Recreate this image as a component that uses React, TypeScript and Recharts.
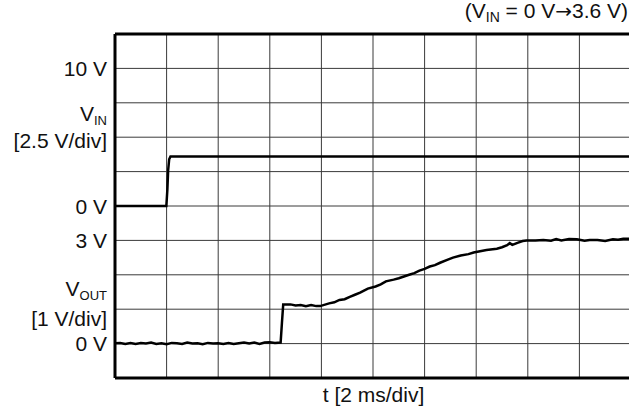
import { LineChart, Line, XAxis, YAxis, CartesianGrid, ReferenceLine } from 'recharts';

// scope setup: 10 x 10 divisions, 2 ms/div
const timeGrid = [0, 2, 4, 6, 8, 10, 12, 14, 16, 18, 20];
const divGrid = [0, 1, 2, 3, 4, 5, 6, 7, 8, 9, 10];

const vinVoltsPerDiv = 2.5;
const vinZeroDiv = 5;
const voutVoltsPerDiv = 1;
const voutZeroDiv = 1;

// [time ms, volts]
const vinTrace: [number, number][] = [
  [0, 0], [1.99, 0], [2.03, 1.2], [2.06, 2.6], [2.1, 3.4], [2.15, 3.6], [20, 3.6],
];

const voutTrace: [number, number][] = [
  [0, 0.01], [0.2, 0.02], [0.4, -0.01], [0.6, 0.02], [0.8, -0.01], [1.0, 0.02],
  [1.2, 0.0], [1.4, 0.03], [1.6, -0.01], [1.8, 0.01], [2.0, -0.02], [2.2, 0.02],
  [2.4, 0.01], [2.6, -0.01], [2.8, 0.03], [3.0, 0.0], [3.2, 0.01], [3.4, -0.02],
  [3.6, 0.02], [3.8, 0.0], [4.0, 0.01], [4.2, -0.01], [4.4, 0.02], [4.6, -0.01],
  [4.8, 0.01], [5.0, 0.03], [5.2, 0.0], [5.4, 0.03], [5.6, -0.01], [5.8, 0.03],
  [6.0, 0.04], [6.2, 0.02], [6.42, 0.03], [6.47, 0.6], [6.52, 1.14],
  [6.8, 1.14], [7.0, 1.11], [7.2, 1.12], [7.4, 1.09], [7.6, 1.12], [7.8, 1.09],
  [7.95, 1.09], [8.3, 1.17], [8.5, 1.2], [8.7, 1.27], [8.9, 1.29], [9.1, 1.36],
  [9.3, 1.42], [9.5, 1.48], [9.8, 1.6], [10.1, 1.66], [10.3, 1.72], [10.5, 1.81],
  [10.8, 1.86], [11.0, 1.9], [11.2, 1.95], [11.4, 2.0], [11.6, 2.05], [11.8, 2.12],
  [12.0, 2.17], [12.2, 2.24], [12.4, 2.28], [12.6, 2.35], [12.9, 2.44], [13.1, 2.5],
  [13.4, 2.56], [13.7, 2.6], [13.9, 2.65], [14.1, 2.68], [14.4, 2.72], [14.8, 2.76],
  [15.0, 2.8], [15.2, 2.86], [15.3, 2.92], [15.4, 2.87], [15.6, 2.93], [15.8, 2.98],
  [15.95, 3.0], [16.3, 3.0], [16.6, 3.01], [16.9, 2.99], [17.1, 3.04], [17.3, 3.0],
  [17.6, 3.04], [17.9, 3.03], [18.2, 2.99], [18.4, 3.01], [18.7, 3.01], [19.0, 2.98],
  [19.3, 3.03], [19.5, 3.02], [19.7, 3.05], [20, 3.05],
];

const yLabels = [
  { at: 9, text: '10 V', sub: '' },
  { at: 7.7, text: 'V', sub: 'IN' },
  { at: 6.9, text: '[2.5 V/div]', sub: '' },
  { at: 5, text: '0 V', sub: '' },
  { at: 4, text: '3 V', sub: '' },
  { at: 2.6, text: 'V', sub: 'OUT' },
  { at: 1.73, text: '[1 V/div]', sub: '' },
  { at: 1, text: '0 V', sub: '' },
];

const vinData = vinTrace.map(([t, v]) => ({ t, div: vinZeroDiv + v / vinVoltsPerDiv }));
const voutData = voutTrace.map(([t, v]) => ({ t, div: voutZeroDiv + v / voutVoltsPerDiv }));

const font = '"Liberation Sans", Arial, sans-serif';

function LabelTick(props: any) {
  const { x, y, payload } = props;
  const lab = yLabels.find((l) => Math.abs(l.at - payload.value) < 1e-6);
  if (!lab) return null;
  return (
    <text x={x} y={y} dy="0.36em" textAnchor="end" fontSize={21} fontFamily={font} fill="#111">
      <tspan>{lab.text}</tspan>
      {lab.sub && (
        <tspan fontSize={13} dy={4}>
          {lab.sub}
        </tspan>
      )}
    </text>
  );
}

export default function App() {
  return (
    <div
      style={{
        position: 'fixed',
        left: 0,
        top: 0,
        width: 629,
        height: 412,
        overflow: 'hidden',
        background: '#fff',
        fontFamily: font,
        color: '#111',
      }}
    >
      <LineChart width={645} height={412} margin={{ top: 34, right: 14, bottom: 34, left: 0 }}>
        <CartesianGrid
          horizontalValues={divGrid}
          verticalValues={timeGrid}
          stroke="#3a3a3a"
          strokeWidth={1}
        />
        <XAxis type="number" dataKey="t" domain={[0, 20]} ticks={timeGrid} hide />
        <YAxis
          type="number"
          domain={[0, 10]}
          ticks={yLabels.map((l) => l.at)}
          interval={0}
          width={115}
          tickSize={0}
          tickMargin={8}
          axisLine={false}
          tickLine={false}
          tick={<LabelTick />}
        />
        <ReferenceLine x={0} stroke="#000" strokeWidth={3} />
        <ReferenceLine y={10} stroke="#000" strokeWidth={3} />
        <ReferenceLine y={0} stroke="#000" strokeWidth={3} />
        <Line
          data={vinData}
          dataKey="div"
          type="linear"
          stroke="#000"
          strokeWidth={2.5}
          dot={false}
          isAnimationActive={false}
        />
        <Line
          data={voutData}
          dataKey="div"
          type="linear"
          stroke="#000"
          strokeWidth={2.5}
          dot={false}
          isAnimationActive={false}
        />
      </LineChart>
      <div style={{ position: 'absolute', right: 1, top: 0, fontSize: 21, lineHeight: '21px', whiteSpace: 'nowrap' }}>
        (V<span style={{ fontSize: 14, position: 'relative', top: 4 }}>IN</span> = 0 V
        <span style={{ fontFamily: '"DejaVu Sans", sans-serif', fontSize: 20 }}>→</span>3.6 V)
      </div>
      <div
        style={{
          position: 'absolute',
          left: 115,
          width: 517,
          top: 384,
          textAlign: 'center',
          fontSize: 21,
          lineHeight: '21px',
        }}
      >
        t [2 ms/div]
      </div>
    </div>
  );
}
